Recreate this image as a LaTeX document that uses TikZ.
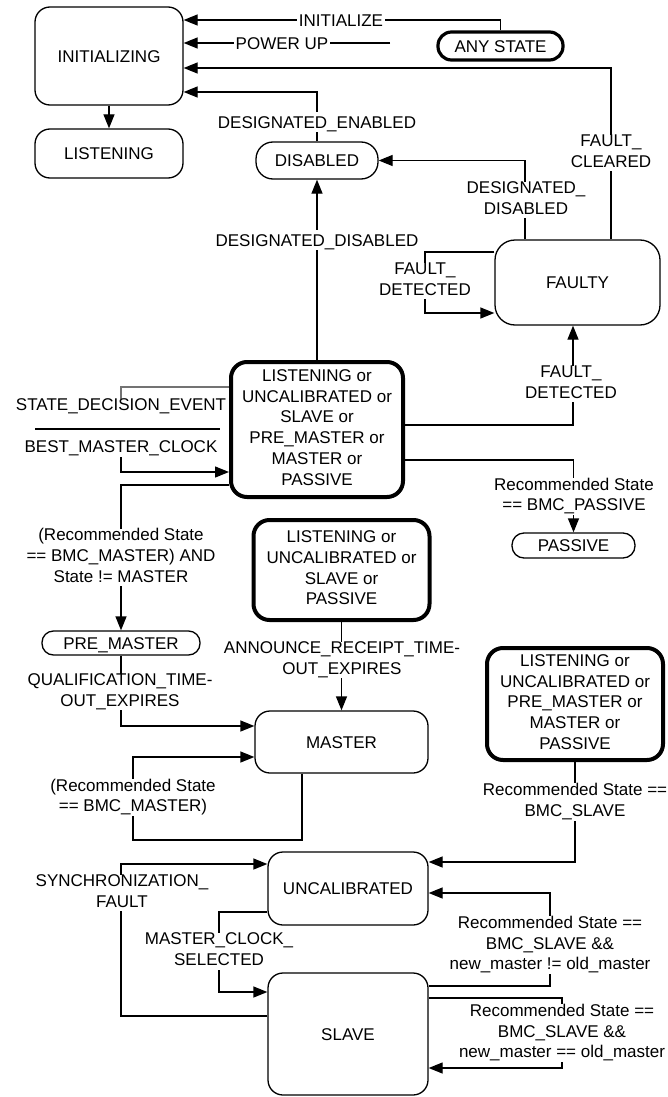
\documentclass[tikz,border=0pt]{standalone}
\usepackage{fontspec}
\setmainfont{Liberation Sans}
\usetikzlibrary{arrows.meta}
\pgfdeclarelayer{bg}
\pgfdeclarelayer{edges}
\pgfsetlayers{bg,edges,main}
\newcommand\cstrut{\rule[-4.25pt]{0pt}{20.7pt}}
\begin{document}
\begin{tikzpicture}[x=1pt,y=-1pt,
  font=\fontsize{17}{20.7}\selectfont,
  every node/.style={execute at begin node=\cstrut, execute at end node=\cstrut, align=center, inner sep=0pt},
  box/.style={draw, line width=1.3pt, rounded corners=#1},
  box/.default=15pt,
  thick box/.style={box=#1, line width=4pt},
  thick box/.default=16pt,
  lbl/.style={fill=white, inner xsep=2pt},
  ln/.style={line width=1.3pt},
  arr/.style={ln, -{Triangle[length=14pt,width=11pt]}}
]
\useasboundingbox (0,0) rectangle (668,1097);
\begin{pgfonlayer}{bg}
\fill[white] (0,0) rectangle (668,1097);
\end{pgfonlayer}

% states
\node[box, minimum width=148pt, minimum height=98pt] (init) at (109,56) {INITIALIZING};
\node[box, minimum width=148pt, minimum height=49pt] (listen) at (109,153.5) {LISTENING};
\node[box=13.5pt, line width=3.2pt, minimum width=125pt, minimum height=28pt] (anyst) at (500.5,46) {ANY STATE};
\node[box=17pt, minimum width=122pt, minimum height=37pt] (disabled) at (317,160.5) {DISABLED};
\node[box=20pt, minimum width=165pt, minimum height=85pt] (faulty) at (577.5,282.5) {FAULTY};
\node[thick box, minimum width=172pt, minimum height=135pt] (central) at (317,429.5) {LISTENING or\\UNCALIBRATED or\\SLAVE or\\PRE\_MASTER or\\MASTER or\\PASSIVE};
\node[box=12pt, minimum width=123pt, minimum height=25pt] (passive) at (573.5,545.5) {PASSIVE};
\node[thick box, minimum width=176pt, minimum height=100pt] (grpb) at (341.5,570) {LISTENING or\\UNCALIBRATED or\\SLAVE or\\PASSIVE};
\node[box=11.5pt, minimum width=158pt, minimum height=24pt] (premaster) at (121,643) {PRE\_MASTER};
\node[box, minimum width=173pt, minimum height=62pt] (master) at (341.5,742) {MASTER};
\node[thick box, minimum width=176pt, minimum height=112pt] (grpc) at (575,704) {LISTENING or\\UNCALIBRATED or\\PRE\_MASTER or\\MASTER or\\PASSIVE};
\node[box, minimum width=160pt, minimum height=73pt] (uncal) at (348,888.5) {UNCALIBRATED};
\node[box, minimum width=160pt, minimum height=122pt] (slave) at (348,1034) {SLAVE};

% labels
\node[lbl] (lInit) at (341,20) {INITIALIZE};
\node[lbl] (lPow) at (282,43) {POWER UP};
\node[lbl] (lEn) at (317,122) {DESIGNATED\_ENABLED};
\node[lbl] (lClr) at (611,153) {FAULT\_\\CLEARED};
\node[lbl] (lDis2) at (526,200) {DESIGNATED\_\\DISABLED};
\node[lbl] (lDis) at (317,240) {DESIGNATED\_DISABLED};
\node[lbl] (lFd1) at (425,281) {FAULT\_\\DETECTED};
\node[lbl] (lFd2) at (571,384) {FAULT\_\\DETECTED};
\node[lbl] (sde) at (121,428) {STATE\_DECISION\_EVENT\\[21.3pt]BEST\_MASTER\_CLOCK};
\draw[ln] (35,429) -- (220,429);
\node[lbl] (lRm1) at (121,557.5) {(Recommended State\\== BMC\_MASTER) AND\\State != MASTER};
\node[lbl] (lPas) at (574,496.5) {Recommended State\\== BMC\_PASSIVE};
\node[lbl] (lAnn) at (342,660) {ANNOUNCE\_RECEIPT\_TIME-\\OUT\_EXPIRES};
\node[lbl] (lQual) at (120,692) {QUALIFICATION\_TIME-\\OUT\_EXPIRES};
\node[lbl] (lRm2) at (133,797.5) {(Recommended State\\== BMC\_MASTER)};
\node[lbl] (lSl) at (575,802) {Recommended State ==\\BMC\_SLAVE};
\node[lbl] (lSync) at (122,893) {SYNCHRONIZATION\_\\FAULT};
\node[lbl] (lMcs) at (219,951.5) {MASTER\_CLOCK\_\\SELECTED};
\node[lbl] (lNe) at (550,945) {Recommended State ==\\BMC\_SLAVE \&\&\\new\_master != old\_master};
\node[lbl] (lEq) at (562,1033) {Recommended State ==\\BMC\_SLAVE \&\&\\new\_master == old\_master};

\coordinate (pu) at (390,43);

% connectors
\begin{pgfonlayer}{edges}
\draw[arr] (anyst.north) |- (init.east |- 0,20);
\draw[arr] (pu) -- (init.east |- pu);
\draw[arr] (faulty.north -| 611,0) |- (init.east |- 0,68);
\draw[arr] (disabled.north) |- (init.east |- 0,92);
\draw[arr] (init.south) -- (listen.north);
\draw[arr] (central.north) -- (disabled.south);
\draw[arr] (faulty.north -| 525,0) |- (disabled.east);
\draw[arr] (faulty.west |- 0,252) -| (425,282) |- (faulty.west |- 0,313);
\draw[arr] (central.east |- 0,425) -| (faulty.south -| 573,0);
\draw[arr] (central.east |- 0,460) -| (passive.north);
\draw[ln, black!55] (central.west |- 0,387) -| (sde.north);
\draw[arr] (sde.south) |- (central.west |- 0,472);
\draw[arr] (central.west |- 0,485) -| (premaster.north);
\draw[arr] (grpb.south) -- (master.north);
\draw[arr] (premaster.south) |- (master.west |- 0,726);
\draw[arr] (master.south -| 302,0) |- (133,840) |- (master.west |- 0,757);
\draw[arr] (grpc.south) |- (uncal.east |- 0,862);
\draw[arr] (slave.west |- 0,1016) -| (121,940) |- (uncal.west |- 0,864);
\draw[arr] (uncal.west |- 0,912) -| (219,950) |- (slave.west |- 0,992);
\draw[arr] (slave.east |- 0,986) -| (550,940) |- (uncal.east |- 0,893);
\draw[arr] (slave.east |- 0,998) -| (562,1030) |- (slave.east |- 0,1068);
\end{pgfonlayer}
\end{tikzpicture}
\end{document}
